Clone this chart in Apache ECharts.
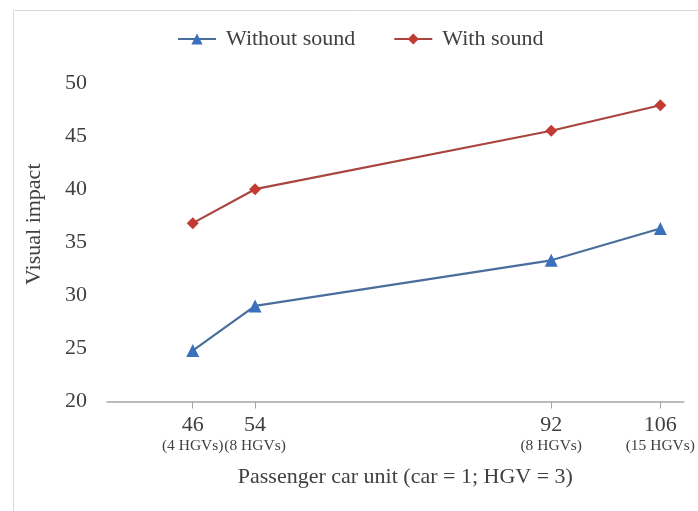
<!DOCTYPE html>
<html>
<head>
<meta charset="utf-8">
<script src="https://cdn.jsdelivr.net/npm/echarts@6/dist/echarts.min.js"></script>
<style>
html,body{margin:0;padding:0;background:#fff;}
#chart{width:698px;height:511px;}
</style>
</head>
<body>
<div id="chart"></div>
<script>
const pcu = [46, 54, 92, 106];
const hgvLabels = ['(4 HGVs)', '(8 HGVs)', '(8 HGVs)', '(15 HGVs)'];
const withoutSound = [24.8, 29.0, 33.3, 36.3];
const withSound = [36.8, 40.0, 45.5, 47.9];

const FONT = 'Liberation Serif';
const TXT = '#404040';

const chart = echarts.init(document.getElementById('chart'));
chart.setOption({
  animation: false,
  backgroundColor: '#fff',
  textStyle: { fontFamily: FONT, color: TXT },
  graphic: [{
    type: 'rect', left: 11, top: 8,
    shape: { width: 720, height: 540 },
    style: { fill: 'none', stroke: '#d9d9d9', lineWidth: 1 }
  }],
  legend: {
    left: 177, top: 28, padding: 0,
    itemWidth: 38, itemHeight: 14, itemGap: 38,
    textStyle: { fontFamily: FONT, fontSize: 22, color: TXT, padding: [0, 0, 0, 5] },
    data: ['Without sound', 'With sound']
  },
  grid: { left: 107, right: 11, top: 83, bottom: 109.5 },
  xAxis: {
    type: 'value', min: 35, max: 109,
    name: 'Passenger car unit (car = 1; HGV = 3)',
    nameLocation: 'middle', nameGap: 65,
    nameTextStyle: { fontFamily: FONT, fontSize: 22, color: TXT, padding: [0, 0, 0, 20] },
    axisLine: { show: true, lineStyle: { color: '#a6a6a6', width: 1.5 } },
    axisTick: { show: true, customValues: pcu, length: 7, lineStyle: { color: '#a6a6a6' } },
    splitLine: { show: false },
    axisLabel: {
      customValues: pcu, margin: 12, hideOverlap: false,
      formatter: function (v) {
        const i = pcu.indexOf(v);
        return '{a|' + v + '}\n{b|' + (i >= 0 ? hgvLabels[i] : '') + '}';
      },
      rich: {
        a: { fontFamily: FONT, fontSize: 22, color: TXT, lineHeight: 23 },
        b: { fontFamily: FONT, fontSize: 15.5, color: TXT, lineHeight: 19 }
      }
    }
  },
  yAxis: {
    type: 'value', min: 20, max: 50, interval: 5,
    name: 'Visual impact',
    nameLocation: 'middle', nameGap: 62,
    nameTextStyle: { fontFamily: FONT, fontSize: 22, color: TXT, padding: [0, 0, 0, 36] },
    axisLine: { show: false },
    axisTick: { show: false },
    splitLine: { show: false },
    axisLabel: { margin: 20, fontFamily: FONT, fontSize: 22, color: TXT }
  },
  series: [
    {
      name: 'Without sound', type: 'line',
      data: pcu.map((x, i) => [x, withoutSound[i]]),
      symbol: 'triangle', symbolSize: 13,
      lineStyle: { color: '#4a6e9c', width: 2.2 },
      itemStyle: { color: '#3a70bd' }
    },
    {
      name: 'With sound', type: 'line',
      data: pcu.map((x, i) => [x, withSound[i]]),
      symbol: 'diamond', symbolSize: 12,
      lineStyle: { color: '#a8453f', width: 2.2 },
      itemStyle: { color: '#c23b33' }
    }
  ]
});
</script>
</body>
</html>
